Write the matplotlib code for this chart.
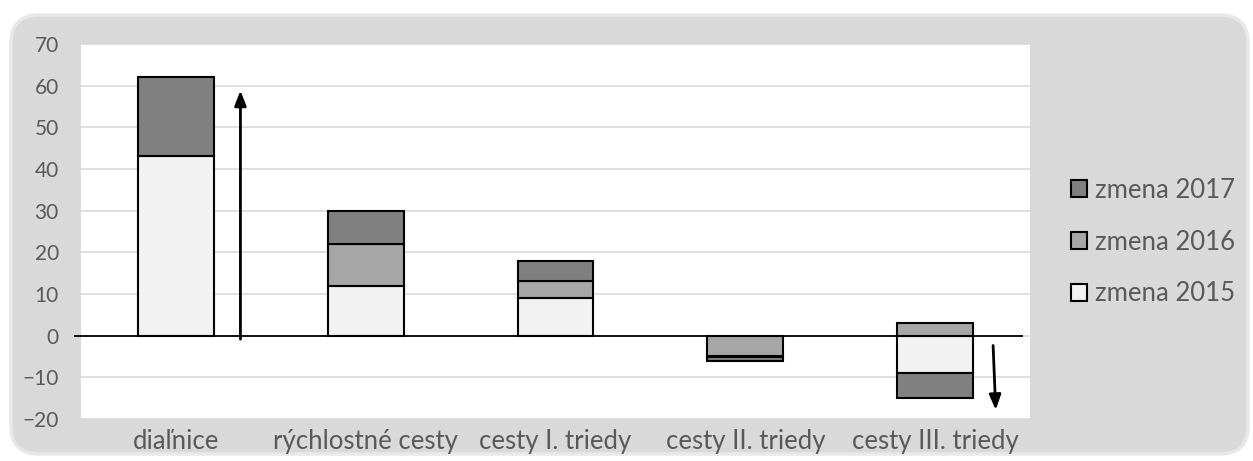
"""
Zmena dĺžky cestnej siete podľa kategórie ciest (2015 - 2017)
"""
import numpy as np
import matplotlib
matplotlib.use("Agg")
import matplotlib.pyplot as plt
from matplotlib.patches import FancyBboxPatch, Patch

plt.rcParams['font.family'] = ['Lato', 'DejaVu Sans']

categories = ['diaľnice', 'rýchlostné cesty', 'cesty I. triedy',
              'cesty II. triedy', 'cesty III. triedy']
series_names = ['zmena 2015', 'zmena 2016', 'zmena 2017']
zmena_2015 = [43, 12, 9, 0, -9]
zmena_2016 = [0, 10, 4, -5, 3]
zmena_2017 = [19, 8, 5, -1, -6]
y_ticks = [-20, -10, 0, 10, 20, 30, 40, 50, 60, 70]

colors = ['#f2f2f2', '#a6a6a6', '#808080']
text_color = '#595959'

fig = plt.figure(figsize=(12.53, 4.61), dpi=100)
fig.patch.set_facecolor('white')

# rounded chart background (inch units)
frame = FancyBboxPatch((0.11, 0.07), 12.37, 4.39,
                       boxstyle='round,pad=0,rounding_size=0.28',
                       transform=fig.dpi_scale_trans, facecolor='#d9d9d9',
                       edgecolor='#e8e8e8', linewidth=2.5, zorder=-5)
fig.patches.append(frame)

ax = fig.add_axes([81 / 1253, 1 - 419 / 461, 949 / 1253, 375 / 461])
ax.set_facecolor('white')

x = np.arange(len(categories))
width = 0.4

# Excel-style stacking: positive and negative parts stack separately
pos_base = np.zeros(len(categories))
neg_base = np.zeros(len(categories))
for vals, color in zip([zmena_2015, zmena_2016, zmena_2017], colors):
    vals = np.array(vals, dtype=float)
    bottoms = np.where(vals >= 0, pos_base, neg_base)
    mask = vals != 0
    ax.bar(x[mask], vals[mask], width, bottom=bottoms[mask], color=color,
           edgecolor='black', linewidth=1.5, zorder=3)
    pos_base += np.where(vals > 0, vals, 0)
    neg_base += np.where(vals < 0, vals, 0)

ax.set_xlim(-0.5, len(categories) - 0.5)
ax.set_ylim(y_ticks[0], y_ticks[-1])
ax.set_yticks(y_ticks)
ax.set_xticks(x)
ax.set_xticklabels(categories)
ax.yaxis.grid(True, color='#d9d9d9', linewidth=1.2, zorder=0)
ax.set_axisbelow(True)
for s in ax.spines.values():
    s.set_visible(False)
ax.tick_params(axis='both', length=0, colors=text_color)
ax.tick_params(axis='y', labelsize=15, pad=16)
ax.tick_params(axis='x', labelsize=18.5, pad=7)

# zero line
ax.plot([-0.53, 4.46], [0, 0], color='black', linewidth=1.3, zorder=4,
        clip_on=False)

# trend arrows
ax.annotate('', xy=(0.34, 59.5), xytext=(0.34, -1.5),
            arrowprops=dict(arrowstyle='-|>,head_length=0.9,head_width=0.35',
                            color='black', linewidth=2), zorder=5)
ax.annotate('', xy=(4.32, -18.5), xytext=(4.305, -1.7),
            arrowprops=dict(arrowstyle='-|>,head_length=0.9,head_width=0.35',
                            color='black', linewidth=2), zorder=5)

handles = [Patch(facecolor=c, edgecolor='black', linewidth=1.5, label=n)
           for c, n in zip(colors, series_names)][::-1]
fig.legend(handles=handles, loc='center left',
           bbox_to_anchor=(1071 / 1253, 1 - 242 / 461), frameon=False,
           fontsize=18.5, labelcolor=text_color, handlelength=0.62,
           handleheight=0.62, handletextpad=0.3, labelspacing=1.05,
           borderpad=0, borderaxespad=0)

fig.savefig('out.png', dpi=100, facecolor='white')
